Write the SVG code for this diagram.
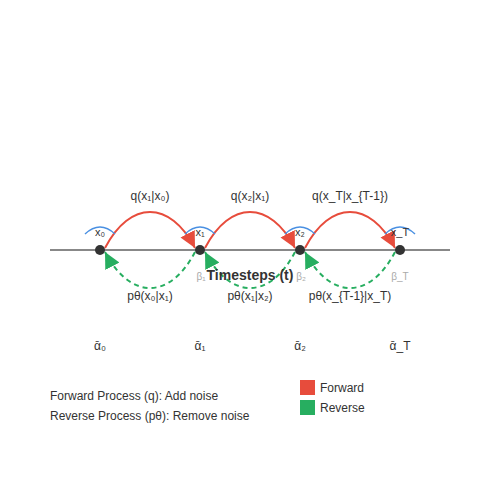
<svg xmlns="http://www.w3.org/2000/svg" width="500" height="500" viewBox="0 0 500 500">
<style>
text{font-family:"Liberation Sans","DejaVu Sans",Arial,sans-serif;fill:#333}
.lbl{font-size:12px;text-anchor:middle}
.xl{font-size:11px;text-anchor:middle}
.beta{font-size:10px;fill:#aaa;text-anchor:middle}
.fwd{fill:none;stroke:#e74c3c;stroke-width:2;marker-end:url(#ar)}
.rev{fill:none;stroke:#27ae60;stroke-width:2;stroke-dasharray:5,4;marker-end:url(#ag)}
.arc{fill:none;stroke:#4a90e2;stroke-width:1.5}
.node{fill:#333}
</style>
<defs>
<marker id="ar" viewBox="0 0 10 10" refX="10" refY="5" markerWidth="8" markerHeight="8" orient="auto" markerUnits="strokeWidth"><path d="M0,0L10,5L0,10z" fill="#e74c3c"/></marker>
<marker id="ag" viewBox="0 0 10 10" refX="10" refY="5" markerWidth="8" markerHeight="8" orient="auto" markerUnits="strokeWidth"><path d="M0,0L10,5L0,10z" fill="#27ae60"/></marker>
</defs>
<rect width="500" height="500" fill="#fff"/>
<line x1="50" y1="250" x2="450" y2="250" stroke="#888" stroke-width="2"/>
<g id="connectors">
<path class="fwd" d="M105,248 C130,200 170,200 195,248"/>
<path class="fwd" d="M205,248 C230,200 270,200 295,248"/>
<path class="fwd" d="M305,248 C330,200 370,200 395,248"/>
<path class="rev" d="M195,252 C170,300 130,300 105,252"/>
<path class="rev" d="M295,252 C270,300 230,300 205,252"/>
<path class="rev" d="M395,252 C370,300 330,300 305,252"/>
<text class="lbl" x="150" y="200">q(x₁|x₀)</text>
<text class="lbl" x="250" y="200">q(x₂|x₁)</text>
<text class="lbl" x="350" y="200">q(x_T|x_{T-1})</text>
<text class="lbl" x="150" y="300">pθ(x₀|x₁)</text>
<text class="lbl" x="250" y="300">pθ(x₁|x₂)</text>
<text class="lbl" x="350" y="300">pθ(x_{T-1}|x_T)</text>
</g>
<g id="node0">
<path class="arc" d="M85,234 Q100,220 115,234"/>
<circle class="node" cx="100" cy="250" r="5"/>
<text class="xl" x="100" y="236">x₀</text>
<text class="lbl" x="100" y="350">ᾱ₀</text>
</g>
<g id="node1">
<path class="arc" d="M185,234 Q200,220 215,234"/>
<circle class="node" cx="200" cy="250" r="5"/>
<text class="xl" x="200" y="236">x₁</text>
<text class="beta" x="201" y="280">β₁</text>
<text class="lbl" x="200" y="350">ᾱ₁</text>
</g>
<g id="node2">
<path class="arc" d="M285,234 Q300,220 315,234"/>
<circle class="node" cx="300" cy="250" r="5"/>
<text class="xl" x="300" y="236">x₂</text>
<text class="beta" x="301" y="280">β₂</text>
<text class="lbl" x="300" y="350">ᾱ₂</text>
</g>
<g id="nodeT">
<path class="arc" d="M385,234 Q400,220 415,234"/>
<circle class="node" cx="400" cy="250" r="5"/>
<text class="xl" x="400" y="236">x_T</text>
<text class="beta" x="400" y="280">β_T</text>
<text class="lbl" x="400" y="350">ᾱ_T</text>
</g>
<text x="250" y="280" font-size="14" font-weight="bold" text-anchor="middle">Timesteps (t)</text>
<g id="legend">
<text x="50" y="400" font-size="12">Forward Process (q): Add noise</text>
<text x="50" y="420" font-size="12">Reverse Process (pθ): Remove noise</text>
<rect x="300" y="380" width="15" height="15" fill="#e74c3c"/>
<text x="320" y="392" font-size="12">Forward</text>
<rect x="300" y="400" width="15" height="15" fill="#27ae60"/>
<text x="320" y="412" font-size="12">Reverse</text>
</g>
</svg>
